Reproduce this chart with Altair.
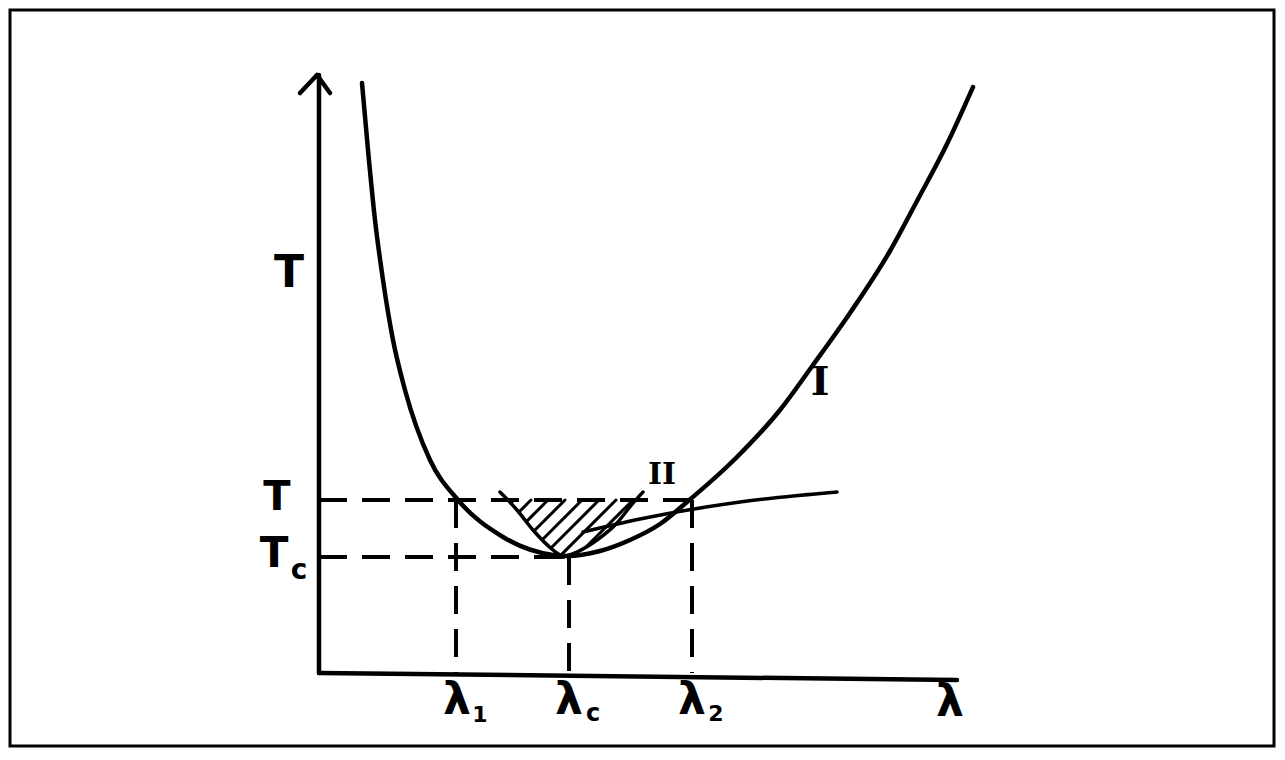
import altair as alt
import pandas as pd
import numpy as np

# ---- data (drawing units: lambda to the right, T upward, origin at the axes' corner) ----
curve1_lam = [43, 49, 56, 64, 74, 86, 111, 139, 184, 234, 248, 281, 311, 341, 368, 418, 461, 494, 531, 571, 598, 628, 654]
curve1_T = [590, 523, 453, 393, 333, 283, 213, 173, 136, 118, 117, 122, 133, 149, 171, 216, 263, 308, 360, 422, 472, 529, 586]

inner_left_lam = [181, 198, 214, 234, 244]
inner_left_T = [181, 163, 143, 123, 116]
inner_right_lam = [244, 258, 278, 298, 314, 324]
inner_right_T = [116, 121, 133, 150, 170, 181]

curve2_lam = [264, 321, 421, 518]
curve2_T = [141, 154, 171, 181]

T_level = 173
Tc_level = 116
lam1 = 137
lamc = 250
lam2 = 373
T_line_end = 386

yaxis_lam = [0, 0]
yaxis_T = [0, 598]
xaxis_lam = [0, 638]
xaxis_T = [0, -7]
arrow_lam = [-19, -2, 11]
arrow_T = [580, 598, 580]

XDOM = [-309, 955]
YDOM = [-73, 663]

xs = alt.Scale(domain=XDOM, nice=False, zero=False)
ys = alt.Scale(domain=YDOM, nice=False, zero=False)

BLACK = "#000000"

# ---- polylines ----
rows = []
def add(name, lams, Ts):
    for i, (a, b) in enumerate(zip(lams, Ts)):
        rows.append({"g": name, "o": i, "lam": a, "T": b})

add("I", curve1_lam, curve1_T)
df_I = pd.DataFrame(rows); rows = []
add("inL", inner_left_lam, inner_left_T)
add("inR", inner_right_lam, inner_right_T)
add("II", curve2_lam, curve2_T)
df_thin = pd.DataFrame(rows); rows = []
add("yaxis", yaxis_lam, yaxis_T)
add("xaxis", xaxis_lam, xaxis_T)
add("arrow", arrow_lam, arrow_T)
df_axes = pd.DataFrame(rows); rows = []

curve_I = alt.Chart(df_I).mark_line(
    color=BLACK, strokeWidth=4.5, interpolate="monotone", strokeCap="round"
).encode(
    x=alt.X("lam:Q", scale=xs, axis=None),
    y=alt.Y("T:Q", scale=ys, axis=None),
    order="o:Q",
)

thin = alt.Chart(df_thin).mark_line(
    color=BLACK, strokeWidth=3.5, interpolate="monotone", strokeCap="round"
).encode(
    x=alt.X("lam:Q", scale=xs, axis=None),
    y=alt.Y("T:Q", scale=ys, axis=None),
    detail="g:N",
    order="o:Q",
)

axes = alt.Chart(df_axes).mark_line(
    color=BLACK, strokeWidth=4.5, strokeCap="round", strokeJoin="round"
).encode(
    x=alt.X("lam:Q", scale=xs, axis=None),
    y=alt.Y("T:Q", scale=ys, axis=None),
    detail="g:N",
    order="o:Q",
)

# ---- dashed guide lines ----
df_dash = pd.DataFrame([
    {"x": 0, "y": T_level, "x2": T_line_end, "y2": T_level},
    {"x": 0, "y": Tc_level, "x2": lamc, "y2": Tc_level},
    {"x": lam1, "y": T_level, "x2": lam1, "y2": 0},
    {"x": lamc, "y": Tc_level, "x2": lamc, "y2": 0},
    {"x": lam2, "y": T_level, "x2": lam2, "y2": 0},
])
dashes = alt.Chart(df_dash).mark_rule(
    color=BLACK, strokeWidth=4, strokeDash=[28, 15], strokeCap="butt"
).encode(
    x=alt.X("x:Q", scale=xs, axis=None),
    y=alt.Y("y:Q", scale=ys, axis=None),
    x2="x2:Q",
    y2="y2:Q",
)

# ---- hatching of the region between the inner curves below T ----
def clip_top(lams, Ts, level):
    pts = list(zip(lams, Ts))
    out = []
    for i in range(len(pts) - 1):
        (a1, b1), (a2, b2) = pts[i], pts[i + 1]
        if b1 <= level:
            out.append((a1, b1))
        if (b1 - level) * (b2 - level) < 0:
            t = (level - b1) / (b2 - b1)
            out.append((a1 + t * (a2 - a1), level))
    if pts[-1][1] <= level:
        out.append(pts[-1])
    return out

left_part = clip_top(inner_left_lam, inner_left_T, T_level)
right_part = clip_top(inner_right_lam, inner_right_T, T_level)
poly = left_part + right_part[1:]

hatch_rows = []
for c in np.arange(-22, -150, -17):
    pts = []
    n = len(poly)
    for i in range(n):
        (x1, y1), (x2, y2) = poly[i], poly[(i + 1) % n]
        f1 = y1 - x1 - c
        f2 = y2 - x2 - c
        if f1 == f2:
            continue
        if (f1 <= 0 <= f2) or (f2 <= 0 <= f1):
            t = f1 / (f1 - f2)
            pts.append((x1 + t * (x2 - x1), y1 + t * (y2 - y1)))
    if len(pts) >= 2:
        pts.sort()
        hatch_rows.append({"x": pts[0][0], "y": pts[0][1], "x2": pts[-1][0], "y2": pts[-1][1]})
df_hatch = pd.DataFrame(hatch_rows)
hatch = alt.Chart(df_hatch).mark_rule(
    color=BLACK, strokeWidth=3, strokeCap="round"
).encode(
    x=alt.X("x:Q", scale=xs, axis=None),
    y=alt.Y("y:Q", scale=ys, axis=None),
    x2="x2:Q",
    y2="y2:Q",
)

# ---- labels ----
big_labels = pd.DataFrame([
    {"t": "T", "lam": -30, "T": 399, "s": 44},
    {"t": "T", "lam": -42, "T": 175, "s": 40},
    {"t": "T", "lam": -45, "T": 119, "s": 42},
    {"t": "λ", "lam": lam1 + 1, "T": -28, "s": 44},
    {"t": "λ", "lam": lamc, "T": -28, "s": 44},
    {"t": "λ", "lam": lam2, "T": -28, "s": 44},
    {"t": "λ", "lam": 631, "T": -30, "s": 44},
])
sub_labels = pd.DataFrame([
    {"t": "c", "lam": -20, "T": 102, "s": 28},
    {"t": "1", "lam": lam1 + 24, "T": -42, "s": 22},
    {"t": "c", "lam": lamc + 24, "T": -41, "s": 24},
    {"t": "2", "lam": lam2 + 24, "T": -41, "s": 22},
])
roman = pd.DataFrame([
    {"t": "I", "lam": 501, "T": 290, "s": 40},
    {"t": "II", "lam": 343, "T": 198, "s": 30},
])

def text_layer(df, font):
    return alt.Chart(df).mark_text(
        color=BLACK, font=font, fontWeight="bold", align="center", baseline="middle"
    ).encode(
        x=alt.X("lam:Q", scale=xs, axis=None),
        y=alt.Y("T:Q", scale=ys, axis=None),
        text="t:N",
        size=alt.Size("s:Q", scale=None, legend=None),
    )

labels = text_layer(big_labels, "DejaVu Sans")
subs = text_layer(sub_labels, "DejaVu Sans")
romans = text_layer(roman, "DejaVu Serif")

chart = alt.layer(
    hatch, dashes, thin, curve_I, axes, labels, subs, romans
).properties(
    width=1264, height=736, padding=2, background="white"
).configure_view(
    stroke=BLACK, strokeWidth=3
)

chart.save("out.html", embed_options={"renderer": "svg", "actions": False})
